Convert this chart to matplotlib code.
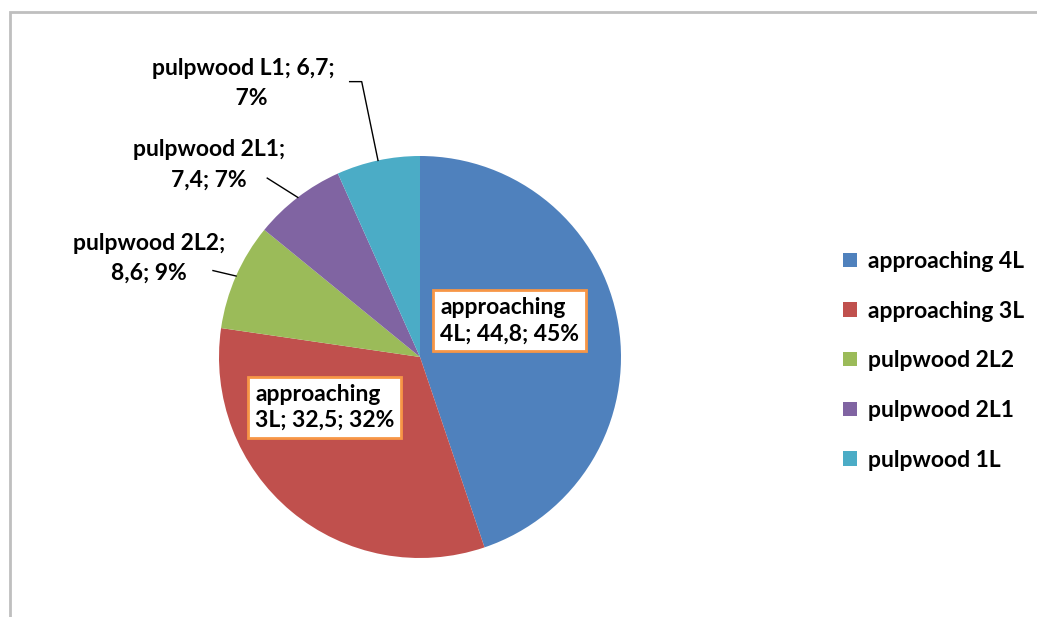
import numpy as np
import matplotlib
matplotlib.use('Agg')
import matplotlib.pyplot as plt
from matplotlib.patches import Rectangle, Patch

# data
names = ['approaching 4L', 'approaching 3L', 'pulpwood 2L2', 'pulpwood 2L1', 'pulpwood 1L']
values = [44.8, 32.5, 8.6, 7.4, 6.7]
pct_labels = ['45%', '32%', '9%', '7%', '7%']
colors = ['#4F81BD', '#C0504D', '#9BBB59', '#8064A2', '#4BACC6']

plt.rcParams['font.family'] = ['Lato', 'DejaVu Sans']
FS = 16.5

W, H = 1037, 617
fig = plt.figure(figsize=(W / 100, H / 100), dpi=100)

# pie area: centre (420, 357) px, radius 201 px
cx, cy, r = 420, 357, 201
ax = fig.add_axes([(cx - r) / W, (H - cy - r) / H, 2 * r / W, 2 * r / H])
wedges, _ = ax.pie(values, colors=colors, startangle=90, counterclock=False,
                   radius=1.0, wedgeprops=dict(linewidth=0))
ax.set_xlim(-1, 1)
ax.set_ylim(-1, 1)
ax.axis('off')


def num(v):
    return f'{v:.1f}'.replace('.', ',')


def mid_point(w, rad=1.0):
    a = np.deg2rad((w.theta1 + w.theta2) / 2)
    return rad * np.cos(a), rad * np.sin(a)


# boxed labels inside the two big slices
box = dict(boxstyle='square,pad=0.3', fc='white', ec='#F79646', lw=2)
ax.text(0.10, 0.18, f'approaching\n4L; {num(values[0])}; {pct_labels[0]}',
        ha='left', va='center', fontsize=FS, fontweight='bold', bbox=box,
        linespacing=1.3)
ax.text(-0.82, -0.25, f'approaching\n3L; {num(values[1])}; {pct_labels[1]}',
        ha='left', va='center', fontsize=FS, fontweight='bold', bbox=box,
        linespacing=1.3)

# outside labels with leader lines
lbl_kw = dict(fontsize=FS, fontweight='bold', ha='center', va='center',
              linespacing=1.55)

x2, y2 = mid_point(wedges[2])
ax.text(-1.35, 0.49, f'pulpwood 2L2;\n{num(values[2])}; {pct_labels[2]}', **lbl_kw)
ax.plot([-1.03, x2], [0.43, y2], color='black', lw=1, clip_on=False)

x3, y3 = mid_point(wedges[3])
ax.text(-1.05, 0.955, f'pulpwood 2L1;\n{num(values[3])}; {pct_labels[3]}', **lbl_kw)
ax.plot([-0.76, x3], [0.89, y3], color='black', lw=1, clip_on=False)

x4, y4 = mid_point(wedges[4])
ax.text(-0.88, 1.36, f'pulpwood L1; {num(values[4])};\n   {pct_labels[4]}', **lbl_kw)
ax.plot([-0.35, -0.29, x4], [1.37, 1.37, y4], color='black', lw=1, clip_on=False)

# legend
handles = [Patch(facecolor=c, edgecolor='none') for c in colors]
fig.legend(handles, names, loc='upper left',
           bbox_to_anchor=(843 / W, 1 - 251 / H), frameon=False,
           prop=dict(size=FS, weight='bold'), handlelength=0.6,
           handleheight=0.6, handletextpad=0.5, labelspacing=1.25,
           borderpad=0, borderaxespad=0)

# outer chart frame (cut off on the right and bottom)
fig.patches.append(Rectangle((10 / W, -0.1), 1.2, (H - 12) / H + 0.1,
                             transform=fig.transFigure, fill=False,
                             ec='#BFBFBF', lw=2))

fig.savefig('out.png', dpi=100)
